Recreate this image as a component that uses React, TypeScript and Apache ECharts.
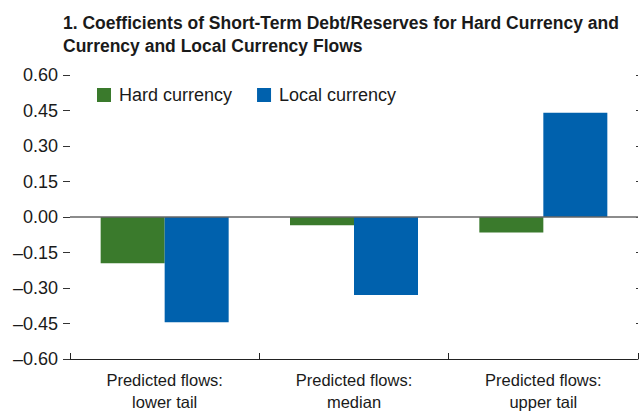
import React, { useEffect, useRef } from "react";
import * as echarts from "echarts";

const categories = ["Predicted flows:\nlower tail", "Predicted flows:\nmedian", "Predicted flows:\nupper tail"];
const hardCurrency = [-0.195, -0.035, -0.065];
const localCurrency = [-0.445, -0.33, 0.44];
const seriesNames = ["Hard currency", "Local currency"];
const titleLines = [
  "1. Coefficients of Short-Term Debt/Reserves for Hard Currency and",
  "Currency and Local Currency Flows",
];

const FONT = "'Liberation Sans', Arial, sans-serif";

export default function App() {
  const ref = useRef<HTMLDivElement>(null);
  useEffect(() => {
    const chart = echarts.init(ref.current!, null, { renderer: "svg" });
    chart.setOption({
      animation: false,
      backgroundColor: "#fff",
      textStyle: { fontFamily: FONT },
      title: {
        text: titleLines.join("\n"),
        left: 63,
        top: 11,
        padding: 0,
        textStyle: { fontFamily: FONT, fontWeight: "bold", fontSize: 17.5, color: "#1a1a1a", lineHeight: 23 },
      },
      legend: {
        left: 97,
        top: 86,
        padding: 0,
        itemWidth: 14,
        itemHeight: 14,
        itemGap: 25,
        icon: "rect",
        textStyle: { fontFamily: FONT, fontSize: 18, color: "#1a1a1a", padding: [0, 0, 0, 3] },
        data: seriesNames,
      },
      grid: { left: 70, right: 1, top: 75, bottom: 51 },
      xAxis: {
        type: "category",
        data: categories,
        axisLine: { onZero: false, lineStyle: { color: "#222", width: 1 } },
        axisTick: { show: true, inside: true, length: 6, interval: 0, lineStyle: { color: "#222" } },
        axisLabel: { fontFamily: FONT, fontSize: 16.5, color: "#1a1a1a", lineHeight: 22, margin: 10, interval: 0 },
      },
      yAxis: [
        {
          type: "value",
          min: -0.6,
          max: 0.6,
          interval: 0.15,
          axisLine: { show: false },
          axisTick: { show: true, length: 7, lineStyle: { color: "#333" } },
          splitLine: { show: false },
          axisLabel: {
            fontFamily: FONT,
            fontSize: 18,
            color: "#1a1a1a",
            margin: 12,
            formatter: (v: number) => {
              const s = Math.abs(v).toFixed(2);
              return v < -1e-9 ? "\u2013" + s : s;
            },
          },
        },
        {
          type: "value",
          position: "right",
          min: -0.6,
          max: 0.6,
          interval: 0.15,
          axisLine: { show: false },
          axisTick: { show: true, inside: true, length: 2, lineStyle: { color: "#333" } },
          axisLabel: { show: false },
          splitLine: { show: false },
        },
      ],
      series: [
        {
          name: seriesNames[0],
          type: "bar",
          data: hardCurrency,
          barWidth: 64,
          barGap: "0%",
          itemStyle: { color: "#3a7a2c" },
        },
        {
          name: seriesNames[1],
          type: "bar",
          data: localCurrency,
          barWidth: 64,
          barGap: "0%",
          itemStyle: { color: "#0061ad" },
          markLine: {
            silent: true,
            symbol: "none",
            label: { show: false },
            lineStyle: { color: "#666", width: 1.5, type: "solid" },
            data: [{ yAxis: 0 }],
          },
        },
      ],
    });
    return () => chart.dispose();
  }, []);
  return <div ref={ref} style={{ width: 639, height: 413, position: "absolute", left: 0, top: 0 }} />;
}
